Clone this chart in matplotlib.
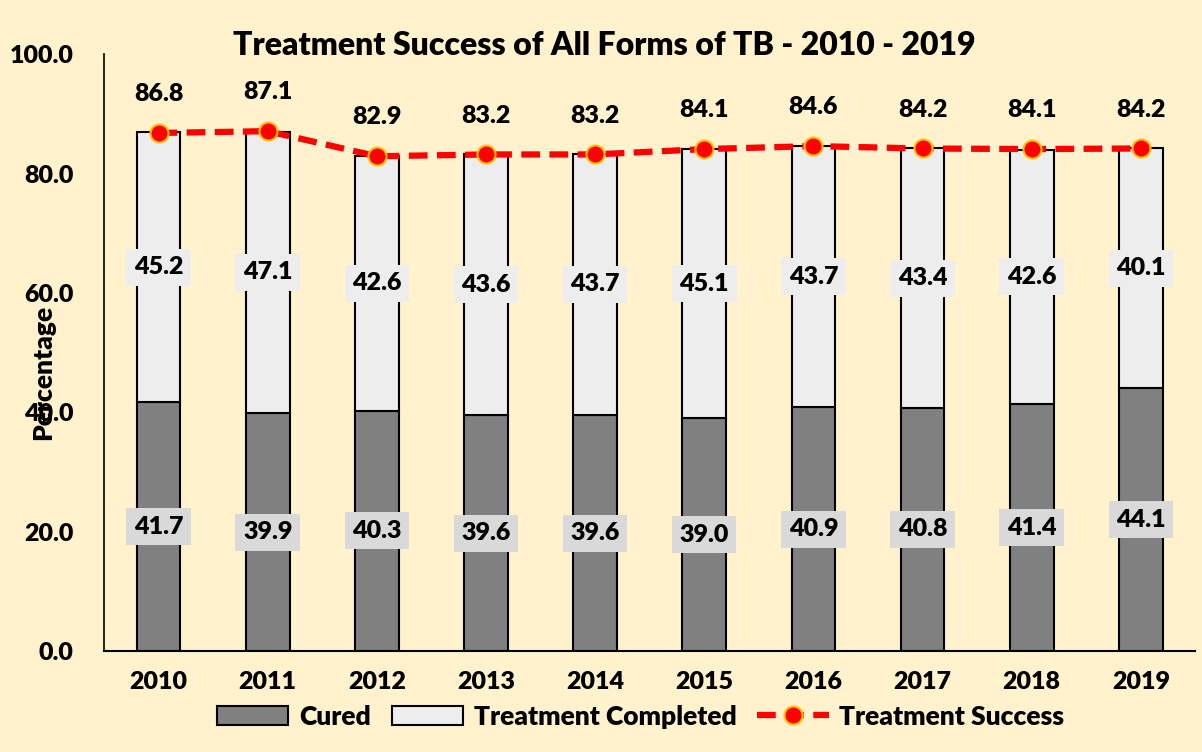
import matplotlib.pyplot as plt
import numpy as np

# data
years = ["2010", "2011", "2012", "2013", "2014", "2015", "2016", "2017", "2018", "2019"]
cured = [41.7, 39.9, 40.3, 39.6, 39.6, 39.0, 40.9, 40.8, 41.4, 44.1]
completed = [45.2, 47.1, 42.6, 43.6, 43.7, 45.1, 43.7, 43.4, 42.6, 40.1]
success = [86.8, 87.1, 82.9, 83.2, 83.2, 84.1, 84.6, 84.2, 84.1, 84.2]

bg = "#FFF2CC"
plt.rcParams['font.family'] = ['Lato', 'DejaVu Sans']
plt.rcParams['font.weight'] = 'heavy'

fig = plt.figure(figsize=(12.02, 7.52), dpi=100, facecolor=bg)
ax = fig.add_axes([0.0865, 0.134, 0.908, 0.794], facecolor=bg)

x = np.arange(len(years))
w = 0.4

# stacked bars
b1 = ax.bar(x, cured, w, color="#808080", edgecolor="black", linewidth=1.5, label="Cured", zorder=2)
b2 = ax.bar(x, completed, w, bottom=cured, color="#EDEDED", edgecolor="black", linewidth=1.5,
            label="Treatment Completed", zorder=2)

# success line
ln, = ax.plot(x, success, color="red", linestyle=(0, (3, 1.5)), linewidth=4.5, marker="o",
              markersize=13, markerfacecolor="red", markeredgecolor="#FFC000", markeredgewidth=1.5,
              label="Treatment Success", zorder=4)

# value labels
for i in range(len(years)):
    ax.text(x[i], cured[i] / 2, f"{cured[i]:.1f}", ha="center", va="center", fontsize=18,
            fontweight="heavy", zorder=5,
            bbox=dict(boxstyle="square,pad=0.3", facecolor="#D9D9D9", edgecolor="none"))
    ax.text(x[i], cured[i] + completed[i] / 2, f"{completed[i]:.1f}", ha="center", va="center",
            fontsize=18, fontweight="heavy", zorder=5,
            bbox=dict(boxstyle="square,pad=0.3", facecolor="#EDEDED", edgecolor="none"))
    ax.text(x[i], success[i] + 6.5, f"{success[i]:.1f}", ha="center", va="center",
            fontsize=18, fontweight="heavy", zorder=5)

ax.set_xlim(-0.5, len(years) - 0.5)
ax.set_ylim(0, 100)
ax.set_yticks(np.arange(0, 101, 20))
ax.set_yticklabels([f"{v:.1f}" for v in np.arange(0, 101, 20)])
ax.set_xticks(x)
ax.set_xticklabels(years)
ax.tick_params(axis="both", length=0, labelsize=18)
ax.tick_params(axis="y", pad=22)
ax.tick_params(axis="x", pad=14)
for s in ["top", "right"]:
    ax.spines[s].set_visible(False)
ax.spines["left"].set_linewidth(1.2)
ax.spines["bottom"].set_linewidth(1.5)

fig.text(0.036, 0.505, "Percentage", rotation=90, ha="center", va="center", fontsize=19,
         fontweight="heavy")
fig.text(0.503, 0.94, "Treatment Success of All Forms of TB - 2010 - 2019", ha="center",
         va="center", fontsize=23, fontweight="heavy")

fig.legend([b1, b2, ln], ["Cured", "Treatment Completed", "Treatment Success"],
           loc="center", bbox_to_anchor=(0.533, 0.047), ncol=3, frameon=False, fontsize=19,
           handlelength=2.7, handletextpad=0.4, columnspacing=0.8)

fig.savefig("out.png", dpi=100, facecolor=bg)
